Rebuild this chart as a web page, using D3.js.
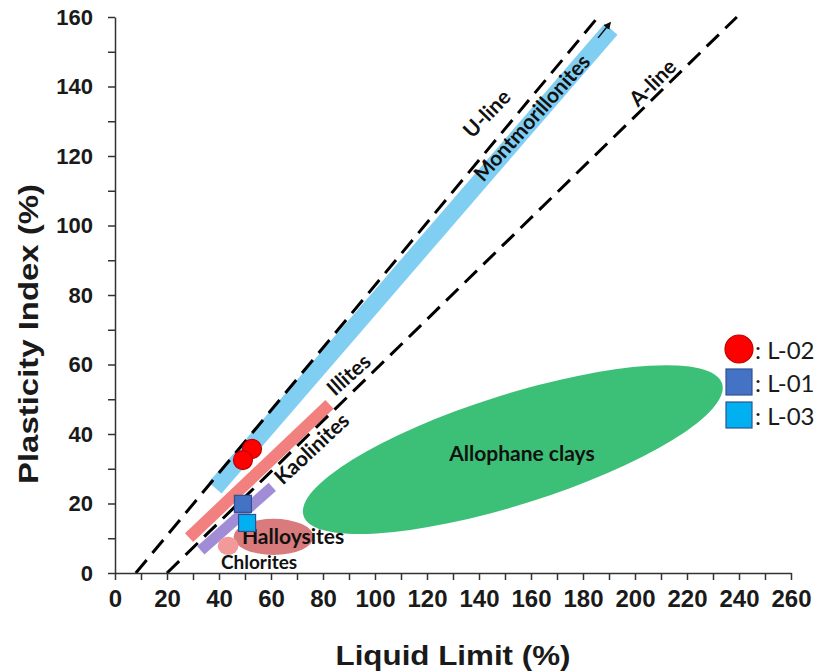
<!DOCTYPE html>
<html>
<head>
<meta charset="utf-8">
<script src="https://cdn.jsdelivr.net/npm/d3@7"></script>
<style>
    body { margin: 0; background: #fff; }
</style>
</head>
<body>
<svg id="chart" width="836" height="671"></svg>
<script>
// ---- data (Liquid Limit %, Plasticity Index %) ----
const xTicks = d3.range(0, 261, 10);
const yTicks = d3.range(0, 161, 10);

const lineNames = ["U-line", "A-line"];
const lineZeroLL = [8, 20];          // LL where PI = 0
const lineSlopes = [0.9, 0.73];

const bandNames = ["Montmorillonites", "Illites", "Kaolinites"];
const bandFrom = [[38.5, 24.5], [28.5, 10.2], [33, 6.5]];
const bandTo = [[190.8, 156.5], [82.5, 48.5], [60.5, 24.8]];
const bandColors = ["#80cff2", "#f2807e", "#a08dd6"];

const zoneNames = ["Halloysites", "Chlorites"];
const zoneCenters = [[61, 10.4], [43.5, 7.8]];
const zoneRadii = [[15.4, 5.2], [4, 2.6]];
const zoneColors = ["#d97b7d", "#f29a9a"];

const allophaneEnds = [[72.5, 16.5], [233.5, 54.5]];
const allophaneColor = "#3cbf76";

const labelTexts = ["U-line", "A-line", "Montmorillonites", "Illites", "Kaolinites", "Halloysites", "Chlorites", "Allophane clays"];
const labelPos = [[142.7, 132.4], [206.5, 141.3], [160, 131.2], [89.6, 57.3], [75.4, 36], [68.5, 10.9], [55.4, 3.2], [156.5, 34.8]];
const labelAngles = [-46, -45, -48, -42, -43, 0, 0, 0];

const arrowLL = [185.8, 190.4];
const arrowPI = [154, 158.3];

const seriesNames = ["L-02", "L-01", "L-03"];
const seriesPoints = [
    [[52.7, 35.7], [49.2, 32.5]],
    [[49.2, 19.9]],
    [[50.8, 14.4]]
];
const seriesColors = ["#ff0000", "#4472c4", "#00b0f0"];
const seriesStrokes = ["#c00000", "#2f528f", "#2f528f"];

// ---- layout ----
const svg = d3.select("#chart");
const x = d3.scaleLinear().domain([0, 260]).range([115, 791]);
const y = d3.scaleLinear().domain([0, 160]).range([573, 17]);
const labelFont = "Lato, 'Open Sans', sans-serif";
const axisFont = "'Liberation Sans', Arial, sans-serif";

svg.append("defs").append("marker")
    .attr("id", "arrowHead")
    .attr("viewBox", "0 0 10 10")
    .attr("refX", 8).attr("refY", 5)
    .attr("markerWidth", 5).attr("markerHeight", 5)
    .attr("orient", "auto")
    .append("path")
    .attr("d", "M0,0 L10,5 L0,10 z")
    .attr("fill", "#111");

// bands
const bandWidths = [17, 12, 11];
svg.append("g").selectAll("line")
    .data(bandNames)
    .join("line")
    .attr("x1", (d, i) => x(bandFrom[i][0]))
    .attr("y1", (d, i) => y(bandFrom[i][1]))
    .attr("x2", (d, i) => x(bandTo[i][0]))
    .attr("y2", (d, i) => y(bandTo[i][1]))
    .attr("stroke", (d, i) => bandColors[i])
    .attr("stroke-width", (d, i) => bandWidths[i]);

// small ellipses
svg.append("g").selectAll("ellipse")
    .data(zoneNames)
    .join("ellipse")
    .attr("cx", (d, i) => x(zoneCenters[i][0]))
    .attr("cy", (d, i) => y(zoneCenters[i][1]))
    .attr("rx", (d, i) => x(zoneRadii[i][0]) - x(0))
    .attr("ry", (d, i) => y(0) - y(zoneRadii[i][1]))
    .attr("fill", (d, i) => zoneColors[i]);

// allophane ellipse (rotated)
const ax1 = x(allophaneEnds[0][0]), ay1 = y(allophaneEnds[0][1]);
const ax2 = x(allophaneEnds[1][0]), ay2 = y(allophaneEnds[1][1]);
const aAngle = Math.atan2(ay2 - ay1, ax2 - ax1) * 180 / Math.PI;
svg.append("ellipse")
    .attr("cx", 0).attr("cy", 0)
    .attr("rx", Math.hypot(ax2 - ax1, ay2 - ay1) / 2)
    .attr("ry", 55)
    .attr("transform", `translate(${(ax1 + ax2) / 2},${(ay1 + ay2) / 2}) rotate(${aAngle})`)
    .attr("fill", allophaneColor);

// U-line and A-line
svg.append("g").selectAll("line")
    .data(lineNames)
    .join("line")
    .attr("x1", (d, i) => x(lineZeroLL[i]))
    .attr("y1", y(0))
    .attr("x2", (d, i) => x(lineZeroLL[i] + 160 / lineSlopes[i]))
    .attr("y2", y(160))
    .attr("stroke", "#000")
    .attr("stroke-width", 3)
    .attr("stroke-dasharray", "17,9");

svg.append("line")
    .attr("x1", x(arrowLL[0])).attr("y1", y(arrowPI[0]))
    .attr("x2", x(arrowLL[1])).attr("y2", y(arrowPI[1]))
    .attr("stroke", "#111")
    .attr("stroke-width", 1.5)
    .attr("marker-end", "url(#arrowHead)");

// labels
svg.append("g").selectAll("text")
    .data(labelTexts)
    .join("text")
    .attr("transform", (d, i) => `translate(${x(labelPos[i][0])},${y(labelPos[i][1])}) rotate(${labelAngles[i]})`)
    .attr("text-anchor", "middle")
    .attr("dominant-baseline", "central")
    .attr("font-family", labelFont)
    .attr("font-weight", "bold")
    .attr("font-size", (d, i) => i === 6 ? 19 : 21)
    .attr("fill", "#111")
    .text(d => d);

// axes
const xAxis = d3.axisBottom(x)
    .tickValues(xTicks)
    .tickSize(7)
    .tickSizeOuter(0)
    .tickPadding(10)
    .tickFormat(d => d % 20 === 0 ? d : "");
const yAxis = d3.axisLeft(y)
    .tickValues(yTicks)
    .tickSize(7)
    .tickSizeOuter(0)
    .tickPadding(15)
    .tickFormat(d => d % 20 === 0 ? d : "");

const gx = svg.append("g").attr("transform", `translate(0,${y(0)})`).call(xAxis);
const gy = svg.append("g").attr("transform", `translate(${x(0)},0)`).call(yAxis);
[gx, gy].forEach(g => {
    g.selectAll("path, line").attr("stroke", "#333").attr("stroke-width", 1.5);
    g.selectAll("text")
        .attr("font-family", axisFont)
        .attr("font-weight", "bold")
        .attr("fill", "#1a1a1a");
});
gx.selectAll("text").attr("font-size", 24);
gy.selectAll("text").attr("font-size", 22);

svg.append("text")
    .attr("x", (x(0) + x(260)) / 2)
    .attr("y", 665)
    .attr("text-anchor", "middle")
    .attr("font-family", axisFont)
    .attr("font-weight", "bold")
    .attr("font-size", 28)
    .attr("textLength", 235)
    .attr("lengthAdjust", "spacingAndGlyphs")
    .attr("fill", "#1a1a1a")
    .text("Liquid Limit (%)");

svg.append("text")
    .attr("transform", "translate(38,334) rotate(-90)")
    .attr("text-anchor", "middle")
    .attr("font-family", axisFont)
    .attr("font-weight", "bold")
    .attr("font-size", 28)
    .attr("textLength", 300)
    .attr("lengthAdjust", "spacingAndGlyphs")
    .attr("fill", "#1a1a1a")
    .text("Plasticity Index (%)");

// samples
seriesNames.forEach((name, si) => {
    const g = svg.append("g");
    if (si === 0) {
        g.selectAll("circle")
            .data(seriesPoints[si])
            .join("circle")
            .attr("cx", d => x(d[0]))
            .attr("cy", d => y(d[1]))
            .attr("r", 9.5)
            .attr("fill", seriesColors[si])
            .attr("stroke", seriesStrokes[si])
            .attr("stroke-width", 1.2);
    } else {
        g.selectAll("rect")
            .data(seriesPoints[si])
            .join("rect")
            .attr("x", d => x(d[0]) - 8.5)
            .attr("y", d => y(d[1]) - 8.5)
            .attr("width", 17)
            .attr("height", 17)
            .attr("fill", seriesColors[si])
            .attr("stroke", seriesStrokes[si])
            .attr("stroke-width", 1.2);
    }
});

// legend
const legend = svg.append("g").attr("transform", "translate(739,349)");
seriesNames.forEach((name, i) => {
    const row = legend.append("g").attr("transform", `translate(0,${i * 33})`);
    if (i === 0) {
        row.append("circle").attr("r", 14)
            .attr("fill", seriesColors[i]).attr("stroke", seriesStrokes[i]).attr("stroke-width", 1.2);
    } else {
        row.append("rect").attr("x", -13).attr("y", -13).attr("width", 26).attr("height", 26)
            .attr("fill", seriesColors[i]).attr("stroke", seriesStrokes[i]).attr("stroke-width", 1.2);
    }
    row.append("text")
        .attr("x", 16)
        .attr("dominant-baseline", "central")
        .attr("font-family", labelFont)
        .attr("font-size", 24)
        .attr("fill", "#1a1a1a")
        .text(": " + name);
});
</script>
</body>
</html>
